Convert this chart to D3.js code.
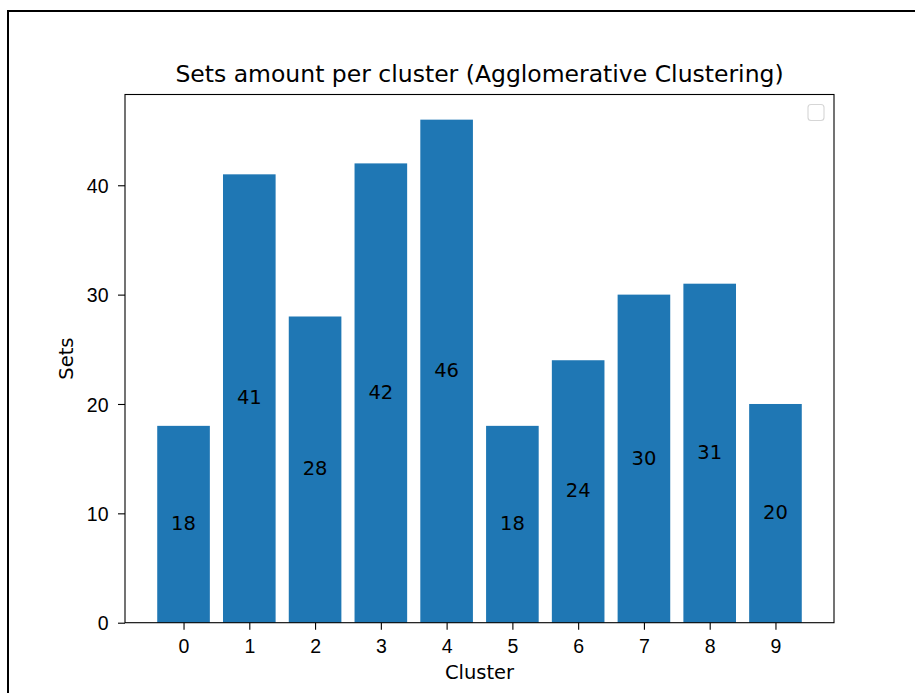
<!DOCTYPE html>
<html>
<head>
<meta charset="utf-8">
<script src="https://cdn.jsdelivr.net/npm/d3@7"></script>
<style>
    body { margin: 0; background: #fff; }
    svg { display: block; font-family: "DejaVu Sans", sans-serif; }
</style>
</head>
<body>
<div class="chart"></div>
<script>
const clusters = [0, 1, 2, 3, 4, 5, 6, 7, 8, 9];
const sets = [18, 41, 28, 42, 46, 18, 24, 30, 31, 20];
const yTicks = [0, 10, 20, 30, 40];
const title = "Sets amount per cluster (Agglomerative Clustering)";

const width = 915, height = 693;
const axLeft = 125, axRight = 834, axTop = 94.5, axBottom = 622.7;

const svg = d3.select(".chart").append("svg")
    .attr("width", width)
    .attr("height", height);

// figure frame
svg.append("path")
    .attr("d", `M8,${height} L8,11 L${width},11`)
    .attr("fill", "none")
    .attr("stroke", "#000")
    .attr("stroke-width", 2);

const x = d3.scaleLinear().domain([-0.89, 9.89]).range([axLeft, axRight]);
const y = d3.scaleLinear().domain([0, 48.3]).range([axBottom, axTop]);

svg.append("g")
    .selectAll("rect")
    .data(clusters)
    .join("rect")
    .attr("x", (d) => x(d - 0.4))
    .attr("width", (d) => x(d + 0.4) - x(d - 0.4))
    .attr("y", (d, i) => y(sets[i]))
    .attr("height", (d, i) => y(0) - y(sets[i]))
    .attr("fill", "#1f77b4");

svg.append("g")
    .selectAll("text")
    .data(clusters)
    .join("text")
    .attr("x", (d) => x(d))
    .attr("y", (d, i) => y(sets[i] / 2))
    .attr("dy", "0.3em")
    .attr("text-anchor", "middle")
    .attr("font-size", 19.5)
    .attr("fill", "#000")
    .text((d, i) => sets[i]);

svg.append("g")
    .attr("transform", `translate(0,${axBottom})`)
    .call(d3.axisBottom(x).tickValues(clusters).tickFormat(d3.format("d")).tickSize(7).tickSizeOuter(0))
    .call(g => g.select(".domain").remove())
    .call(g => g.selectAll(".tick line").attr("stroke", "#000").attr("stroke-width", 1.1))
    .call(g => g.selectAll(".tick text")
        .attr("y", 30).attr("dy", 0)
        .attr("font-size", 19.5).attr("fill", "#000"));

svg.append("g")
    .attr("transform", `translate(${axLeft},0)`)
    .call(d3.axisLeft(y).tickValues(yTicks).tickSize(7).tickPadding(9.5).tickSizeOuter(0))
    .call(g => g.select(".domain").remove())
    .call(g => g.selectAll(".tick line").attr("stroke", "#000").attr("stroke-width", 1.1))
    .call(g => g.selectAll(".tick text")
        .attr("dy", "0.36em")
        .attr("font-size", 19.5).attr("fill", "#000"));

// spines
svg.append("rect")
    .attr("x", axLeft)
    .attr("y", axTop)
    .attr("width", axRight - axLeft)
    .attr("height", axBottom - axTop)
    .attr("fill", "none")
    .attr("stroke", "#000")
    .attr("stroke-width", 1.1);

// empty legend box
svg.append("rect")
    .attr("x", 808)
    .attr("y", 104.5)
    .attr("width", 16)
    .attr("height", 16)
    .attr("rx", 3)
    .attr("fill", "#fff")
    .attr("stroke", "#d6d6d6")
    .attr("stroke-width", 1.1);

svg.append("text")
    .attr("x", (axLeft + axRight) / 2)
    .attr("y", 82)
    .attr("text-anchor", "middle")
    .attr("font-size", 23.5)
    .attr("fill", "#000")
    .text(title);

svg.append("text")
    .attr("x", (axLeft + axRight) / 2)
    .attr("y", 679.3)
    .attr("text-anchor", "middle")
    .attr("font-size", 19.5)
    .attr("fill", "#000")
    .text("Cluster");

svg.append("text")
    .attr("transform", `translate(73.3,${(axTop + axBottom) / 2}) rotate(-90)`)
    .attr("text-anchor", "middle")
    .attr("font-size", 19.5)
    .attr("fill", "#000")
    .text("Sets");
</script>
</body>
</html>
